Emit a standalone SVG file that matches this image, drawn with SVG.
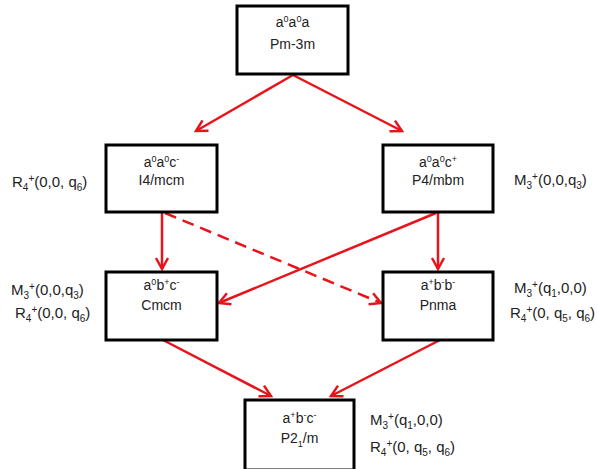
<svg xmlns="http://www.w3.org/2000/svg" width="597" height="469" viewBox="0 0 597 469">
<style>
.box{fill:#fff;stroke:#000;stroke-width:3}
text{font-family:"Liberation Sans",Arial,sans-serif;font-size:14px;fill:#222}
.c{text-anchor:middle}
.l{font-size:15px}
.s{font-size:9px}
.l .s{font-size:10px}
.e{stroke:#e8141c;stroke-width:2.5;fill:none;marker-end:url(#ah)}
.d{stroke-dasharray:12 7}
</style>
<defs>
<marker id="ah" markerUnits="userSpaceOnUse" markerWidth="16" markerHeight="16" refX="12" refY="7" orient="auto" viewBox="0 0 16 14">
<path d="M1,1 L12,7 L1,13" fill="none" stroke="#e8141c" stroke-width="2.5"/>
</marker>
</defs>
<rect width="597" height="469" fill="#fff"/>
<g id="connectors">
<line class="e" x1="293" y1="75" x2="196" y2="131"/>
<line class="e" x1="293" y1="75" x2="402" y2="131"/>
<line class="e" x1="162" y1="213" x2="162" y2="269"/>
<line class="e" x1="438" y1="213" x2="438" y2="269"/>
<line class="e d" x1="165" y1="213" x2="381" y2="303"/>
<line class="e" x1="436" y1="213" x2="219" y2="303"/>
<line class="e" x1="163" y1="340" x2="271" y2="396"/>
<line class="e" x1="440" y1="340" x2="331" y2="396"/>
</g>
<g id="n-pm3m">
<rect class="box" x="237" y="6" width="111" height="68"/>
<text class="c" x="292.5" y="27">a<tspan class="s" dy="-5">0</tspan><tspan dy="5">a</tspan><tspan class="s" dy="-5">0</tspan><tspan dy="5">a</tspan></text>
<text class="c" x="292.5" y="49">Pm-3m</text>
</g>
<g id="n-i4mcm">
<rect class="box" x="106" y="145" width="111" height="67"/>
<text class="c" x="161.5" y="167">a<tspan class="s" dy="-5">0</tspan><tspan dy="5">a</tspan><tspan class="s" dy="-5">0</tspan><tspan dy="5">c</tspan><tspan class="s" dy="-5">-</tspan></text>
<text class="c" x="161.5" y="185">I4/mcm</text>
<text class="l" x="12" y="187">R<tspan class="s" dy="4">4</tspan><tspan class="s" dy="-9">+</tspan><tspan dy="5">(0,0, q</tspan><tspan class="s" dy="4">6</tspan><tspan dy="-4">)</tspan></text>
</g>
<g id="n-p4mbm">
<rect class="box" x="383" y="145" width="110" height="67"/>
<text class="c" x="438" y="167">a<tspan class="s" dy="-5">0</tspan><tspan dy="5">a</tspan><tspan class="s" dy="-5">0</tspan><tspan dy="5">c</tspan><tspan class="s" dy="-5">+</tspan></text>
<text class="c" x="438" y="185">P4/mbm</text>
<text class="l" x="514" y="185">M<tspan class="s" dy="4">3</tspan><tspan class="s" dy="-9">+</tspan><tspan dy="5">(0,0,q</tspan><tspan class="s" dy="4">3</tspan><tspan dy="-4">)</tspan></text>
</g>
<g id="n-cmcm">
<rect class="box" x="106" y="272" width="111" height="68"/>
<text class="c" x="161.5" y="290">a<tspan class="s" dy="-5">0</tspan><tspan dy="5">b</tspan><tspan class="s" dy="-5">+</tspan><tspan dy="5">c</tspan><tspan class="s" dy="-5">-</tspan></text>
<text class="c" x="161.5" y="310">Cmcm</text>
<text class="l" x="11" y="295">M<tspan class="s" dy="4">3</tspan><tspan class="s" dy="-9">+</tspan><tspan dy="5">(0,0,q</tspan><tspan class="s" dy="4">3</tspan><tspan dy="-4">)</tspan></text>
<text class="l" x="15" y="318">R<tspan class="s" dy="4">4</tspan><tspan class="s" dy="-9">+</tspan><tspan dy="5">(0,0, q</tspan><tspan class="s" dy="4">6</tspan><tspan dy="-4">)</tspan></text>
</g>
<g id="n-pnma">
<rect class="box" x="383" y="272" width="110" height="68"/>
<text class="c" x="438" y="290">a<tspan class="s" dy="-5">+</tspan><tspan dy="5">b</tspan><tspan class="s" dy="-5">-</tspan><tspan dy="5">b</tspan><tspan class="s" dy="-5">-</tspan></text>
<text class="c" x="438" y="310">Pnma</text>
<text class="l" x="514" y="293">M<tspan class="s" dy="4">3</tspan><tspan class="s" dy="-9">+</tspan><tspan dy="5">(q</tspan><tspan class="s" dy="4">1</tspan><tspan dy="-4">,0,0)</tspan></text>
<text class="l" x="510" y="318">R<tspan class="s" dy="4">4</tspan><tspan class="s" dy="-9">+</tspan><tspan dy="5">(0, q</tspan><tspan class="s" dy="4">5</tspan><tspan dy="-4">, q</tspan><tspan class="s" dy="4">6</tspan><tspan dy="-4">)</tspan></text>
</g>
<g id="n-p21m">
<rect class="box" x="245" y="400" width="109" height="70"/>
<text class="c" x="299.5" y="423">a<tspan class="s" dy="-5">+</tspan><tspan dy="5">b</tspan><tspan class="s" dy="-5">-</tspan><tspan dy="5">c</tspan><tspan class="s" dy="-5">-</tspan></text>
<text class="c" x="299.5" y="443">P2<tspan class="s" dy="4">1</tspan><tspan dy="-4">/m</tspan></text>
<text class="l" x="370" y="425">M<tspan class="s" dy="4">3</tspan><tspan class="s" dy="-9">+</tspan><tspan dy="5">(q</tspan><tspan class="s" dy="4">1</tspan><tspan dy="-4">,0,0)</tspan></text>
<text class="l" x="370" y="452">R<tspan class="s" dy="4">4</tspan><tspan class="s" dy="-9">+</tspan><tspan dy="5">(0, q</tspan><tspan class="s" dy="4">5</tspan><tspan dy="-4">, q</tspan><tspan class="s" dy="4">6</tspan><tspan dy="-4">)</tspan></text>
</g>
</svg>
